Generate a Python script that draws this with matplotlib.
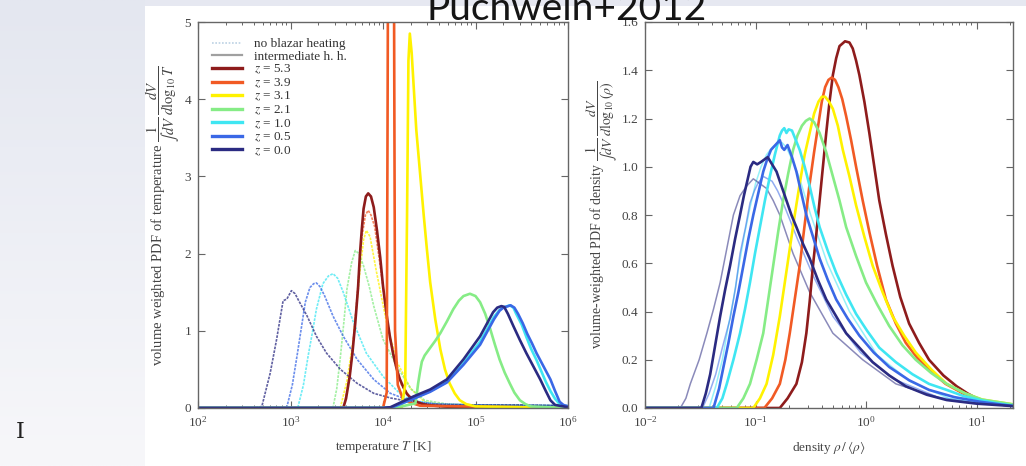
import numpy as np
import matplotlib.pyplot as plt
from matplotlib.patches import Rectangle
from matplotlib.lines import Line2D
from matplotlib.colors import LinearSegmentedColormap
from matplotlib.ticker import FormatStrFormatter

plt.rcParams['font.family'] = ['Liberation Serif', 'DejaVu Serif']
plt.rcParams['mathtext.fontset'] = 'stix'

redshifts = ["5.3", "3.9", "3.1", "2.1", "1.0", "0.5", "0.0"]
colors = ["#8e1c1c", "#f15a24", "#fff200", "#86ec86", "#3fe6f2", "#3a68e6", "#2b2b82"]

# ---- temperature PDF, strong blazar heating (log10 T, pdf) ----
temp_strong = {
    "5.3": ([2.0, 3.50, 3.57, 3.60, 3.64, 3.67, 3.70, 3.73, 3.75, 3.77, 3.79, 3.815, 3.84, 3.87, 3.90, 3.935, 3.97,
             4.0, 4.04, 4.075, 4.11, 4.145, 4.18, 4.22, 4.26, 4.31, 4.36, 4.43, 4.50, 4.65, 4.80, 6.0],
            [0, 0, 0.0, 0.12, 0.41, 0.72, 1.10, 1.55, 1.98, 2.30, 2.58, 2.74, 2.78, 2.74, 2.60, 2.30, 1.95,
             1.58, 1.20, 0.92, 0.70, 0.52, 0.38, 0.27, 0.18, 0.12, 0.08, 0.05, 0.035, 0.02, 0.01, 0]),
    "3.9": ([2.0, 4.00, 4.04, 4.05, 4.06, 4.11, 4.12, 4.13, 4.16, 4.22, 4.40, 6.0],
            [0, 0, 0.2, 4.0, 8.0, 8.0, 5.0, 1.0, 0.3, 0.1, 0.03, 0]),
    "3.1": ([2.0, 4.20, 4.24, 4.26, 4.275, 4.29, 4.31, 4.335, 4.36, 4.40, 4.44, 4.475, 4.51, 4.565, 4.62, 4.67,
             4.72, 4.775, 4.83, 4.9, 5.0, 6.0],
            [0, 0, 0.3, 2.5, 4.5, 4.85, 4.6, 4.1, 3.6, 3.05, 2.5, 2.05, 1.63, 1.15, 0.76, 0.50,
             0.32, 0.19, 0.10, 0.05, 0.02, 0]),
    "2.1": ([2.0, 4.0, 4.2, 4.35, 4.365, 4.38, 4.40, 4.42, 4.45, 4.51, 4.565, 4.62, 4.69, 4.76, 4.82, 4.87, 4.94,
             5.0, 5.05, 5.105, 5.16, 5.21, 5.26, 5.315, 5.37, 5.42, 5.48, 5.54, 5.6, 6.0],
            [0, 0, 0.02, 0.06, 0.18, 0.32, 0.47, 0.60, 0.68, 0.78, 0.87, 0.97, 1.12, 1.28, 1.39, 1.45, 1.48,
             1.45, 1.37, 1.22, 1.02, 0.82, 0.63, 0.46, 0.32, 0.20, 0.10, 0.05, 0.02, 0]),
    "1.0": ([2.0, 4.0, 4.1, 4.33, 4.51, 4.69, 4.87, 5.05, 5.2, 5.26, 5.3, 5.37, 5.41, 5.44, 5.5, 5.55, 5.6, 5.66,
             5.71, 5.76, 5.81, 5.86, 5.91, 5.95, 6.0],
            [0, 0, 0.01, 0.12, 0.22, 0.34, 0.58, 0.86, 1.18, 1.27, 1.30, 1.33, 1.30, 1.22, 1.08, 0.92, 0.77, 0.62,
             0.48, 0.34, 0.22, 0.12, 0.05, 0.03, 0.01]),
    "0.5": ([2.0, 4.0, 4.1, 4.33, 4.51, 4.69, 4.87, 5.05, 5.2, 5.26, 5.3, 5.38, 5.42, 5.46, 5.51, 5.56, 5.61, 5.66,
             5.735, 5.81, 5.86, 5.91, 5.95, 6.0],
            [0, 0, 0.01, 0.12, 0.21, 0.33, 0.56, 0.82, 1.15, 1.26, 1.30, 1.33, 1.30, 1.22, 1.10, 0.96, 0.84, 0.71,
             0.54, 0.37, 0.22, 0.08, 0.04, 0.02]),
    "0.0": ([2.0, 4.0, 4.08, 4.33, 4.51, 4.69, 4.87, 5.05, 5.19, 5.235, 5.28, 5.31, 5.35, 5.41, 5.48, 5.55, 5.625,
             5.70, 5.76, 5.81, 5.86, 6.0],
            [0, 0, 0.01, 0.15, 0.24, 0.37, 0.63, 0.93, 1.24, 1.30, 1.32, 1.31, 1.22, 1.06, 0.88, 0.71, 0.54,
             0.37, 0.22, 0.10, 0.04, 0.01]),
}

# ---- temperature PDF, no blazar heating ----
temp_none = {
    "3.9": ([2.0, 3.55, 3.58, 3.65, 3.71, 3.77, 3.81, 3.84, 3.87, 3.91, 3.98, 4.05, 4.12, 4.2, 4.3, 4.45, 4.7, 6.0],
            [0, 0, 0.02, 0.5, 1.3, 2.2, 2.5, 2.56, 2.5, 2.35, 1.75, 1.1, 0.62, 0.3, 0.13, 0.05, 0.02, 0.01]),
    "3.1": ([2.0, 3.5, 3.54, 3.61, 3.68, 3.75, 3.79, 3.82, 3.86, 3.93, 4.04, 4.15, 4.30, 4.45, 4.7, 6.0],
            [0, 0, 0.01, 0.35, 0.89, 1.76, 2.18, 2.30, 2.22, 1.76, 1.10, 0.60, 0.25, 0.08, 0.03, 0.02]),
    "2.1": ([2.0, 3.4, 3.46, 3.50, 3.54, 3.58, 3.61, 3.66, 3.70, 3.74, 3.79, 3.85, 3.90, 4.0, 4.15, 4.3, 4.45,
             4.7, 5.0, 6.0],
            [0, 0, 0.01, 0.25, 0.67, 1.15, 1.54, 1.88, 2.04, 2.00, 1.84, 1.58, 1.32, 0.89, 0.54, 0.25, 0.10,
             0.05, 0.04, 0.03]),
    "1.0": ([2.0, 3.0, 3.08, 3.14, 3.19, 3.24, 3.28, 3.35, 3.41, 3.46, 3.51, 3.57, 3.68, 3.82, 4.0, 4.18, 4.3, 4.6,
             5.0, 6.0],
            [0, 0, 0.01, 0.30, 0.67, 1.00, 1.28, 1.61, 1.71, 1.74, 1.68, 1.50, 1.11, 0.71, 0.41, 0.19, 0.10, 0.05,
             0.04, 0.03]),
    "0.5": ([2.0, 2.9, 2.96, 3.02, 3.07, 3.16, 3.21, 3.25, 3.28, 3.32, 3.37, 3.46, 3.57, 3.72, 3.90, 4.08, 4.3, 4.6,
             5.0, 6.0],
            [0, 0, 0.01, 0.30, 0.67, 1.37, 1.56, 1.61, 1.62, 1.57, 1.45, 1.19, 0.93, 0.63, 0.37, 0.19, 0.09, 0.05,
             0.04, 0.03]),
    "0.0": ([2.0, 2.6, 2.69, 2.78, 2.85, 2.92, 2.96, 3.01, 3.05, 3.08, 3.18, 3.28, 3.39, 3.54, 3.72, 3.90, 4.08,
             4.26, 4.5, 5.0, 5.5, 6.0],
            [0, 0, 0.02, 0.45, 0.89, 1.39, 1.41, 1.52, 1.48, 1.41, 1.19, 0.93, 0.71, 0.50, 0.32, 0.19, 0.13,
             0.09, 0.05, 0.04, 0.04, 0.03]),
}

# ---- density PDF, strong blazar heating (log10 rho/<rho>, pdf) ----
dens_strong = {
    "5.3": ([-2.0, -0.85, -0.78, -0.71, -0.63, -0.58, -0.54, -0.51, -0.48, -0.45, -0.42, -0.39, -0.36, -0.33,
             -0.30, -0.27, -0.24, -0.19, -0.15, -0.12, -0.09, -0.06, -0.015, 0.03, 0.075, 0.12, 0.18, 0.24,
             0.31, 0.39, 0.48, 0.57, 0.70, 0.82, 0.92, 1.03, 1.18, 1.33],
            [0, 0, 0.0, 0.04, 0.10, 0.19, 0.31, 0.44, 0.59, 0.72, 0.86, 1.00, 1.14, 1.27,
             1.38, 1.45, 1.50, 1.52, 1.515, 1.49, 1.44, 1.38, 1.27, 1.14, 1.00, 0.86, 0.72, 0.59,
             0.46, 0.35, 0.27, 0.20, 0.135, 0.09, 0.06, 0.033, 0.02, 0.012]),
    "3.9": ([-2.0, -1.0, -0.92, -0.85, -0.78, -0.73, -0.69, -0.645, -0.60, -0.555, -0.51, -0.47, -0.43, -0.40,
             -0.37, -0.34, -0.31, -0.28, -0.25, -0.215, -0.18, -0.135, -0.09, -0.03, 0.03, 0.10, 0.18, 0.27,
             0.36, 0.46, 0.57, 0.72, 0.88, 1.05, 1.33],
            [0, 0, 0.0, 0.04, 0.10, 0.20, 0.31, 0.45, 0.59, 0.76, 0.93, 1.06, 1.18, 1.27,
             1.33, 1.36, 1.37, 1.36, 1.33, 1.28, 1.21, 1.11, 1.00, 0.86, 0.73, 0.59, 0.45, 0.35,
             0.27, 0.21, 0.16, 0.10, 0.06, 0.03, 0.01]),
    "3.1": ([-2.0, -1.1, -1.02, -0.96, -0.90, -0.84, -0.78, -0.735, -0.69, -0.645, -0.60, -0.555, -0.51, -0.47,
             -0.43, -0.40, -0.37, -0.335, -0.30, -0.255, -0.21, -0.15, -0.09, -0.015, 0.06, 0.15, 0.24, 0.345,
             0.45, 0.59, 0.73, 0.90, 1.05, 1.33],
            [0, 0, 0.0, 0.04, 0.10, 0.22, 0.38, 0.52, 0.66, 0.80, 0.93, 1.05, 1.14, 1.22,
             1.27, 1.29, 1.29, 1.27, 1.24, 1.17, 1.07, 0.96, 0.84, 0.71, 0.59, 0.48, 0.38, 0.30,
             0.23, 0.16, 0.10, 0.06, 0.035, 0.015]),
    "2.1": ([-2.0, -1.25, -1.17, -1.11, -1.05, -0.99, -0.93, -0.885, -0.84, -0.795, -0.75, -0.705, -0.66, -0.62,
             -0.58, -0.545, -0.51, -0.47, -0.42, -0.36, -0.30, -0.24, -0.18, -0.09, 0.0, 0.10, 0.21, 0.33,
             0.45, 0.59, 0.73, 0.90, 1.05, 1.33],
            [0, 0, 0.0, 0.04, 0.10, 0.20, 0.31, 0.45, 0.59, 0.73, 0.86, 0.97, 1.07, 1.13,
             1.17, 1.19, 1.20, 1.185, 1.14, 1.06, 0.96, 0.86, 0.75, 0.63, 0.52, 0.43, 0.34, 0.26,
             0.20, 0.145, 0.10, 0.06, 0.035, 0.015]),
    "1.0": ([-2.0, -1.42, -1.35, -1.30, -1.26, -1.20, -1.14, -1.095, -1.05, -1.005, -0.96, -0.915, -0.87, -0.825,
             -0.78, -0.76, -0.74, -0.72, -0.70, -0.67, -0.635, -0.60, -0.555, -0.51, -0.465, -0.42, -0.345,
             -0.27, -0.18, -0.09, 0.01, 0.12, 0.27, 0.42, 0.57, 0.73, 0.88, 1.03, 1.18, 1.33],
            [0, 0, 0.0, 0.04, 0.10, 0.20, 0.31, 0.41, 0.52, 0.64, 0.75, 0.86, 0.96, 1.05,
             1.13, 1.15, 1.16, 1.14, 1.155, 1.15, 1.11, 1.07, 1.00, 0.92, 0.83, 0.75, 0.65,
             0.56, 0.47, 0.39, 0.32, 0.25, 0.19, 0.14, 0.10, 0.075, 0.05, 0.033, 0.02, 0.01]),
    "0.5": ([-2.0, -1.45, -1.38, -1.33, -1.29, -1.245, -1.20, -1.155, -1.11, -1.065, -1.02, -0.975, -0.93, -0.895,
             -0.86, -0.82, -0.78, -0.76, -0.74, -0.71, -0.67, -0.63, -0.585, -0.54, -0.48, -0.42, -0.345,
             -0.27, -0.165, -0.06, 0.07, 0.21, 0.39, 0.57, 0.80, 1.03, 1.33],
            [0, 0, 0.0, 0.08, 0.17, 0.27, 0.38, 0.48, 0.59, 0.70, 0.80, 0.89, 0.98, 1.03,
             1.07, 1.09, 1.11, 1.08, 1.07, 1.09, 1.04, 0.98, 0.89, 0.80, 0.71, 0.62, 0.53,
             0.45, 0.37, 0.30, 0.23, 0.17, 0.115, 0.075, 0.045, 0.026, 0.008]),
    "0.0": ([-2.0, -1.56, -1.49, -1.45, -1.41, -1.365, -1.32, -1.275, -1.23, -1.185, -1.14, -1.105, -1.07, -1.045,
             -1.02, -0.985, -0.95, -0.92, -0.89, -0.85, -0.81, -0.765, -0.72, -0.675, -0.63, -0.57, -0.51,
             -0.435, -0.36, -0.27, -0.18, -0.06, 0.06, 0.21, 0.36, 0.55, 0.73, 1.0, 1.33],
            [0, 0, 0.0, 0.06, 0.14, 0.26, 0.38, 0.49, 0.59, 0.70, 0.80, 0.88, 0.95, 1.00,
             1.02, 1.01, 1.02, 1.03, 1.04, 1.01, 0.98, 0.92, 0.86, 0.80, 0.75, 0.68, 0.62,
             0.53, 0.45, 0.38, 0.31, 0.25, 0.19, 0.135, 0.09, 0.055, 0.033, 0.018, 0.008]),
}

# ---- density PDF, weaker heating (thin lines) ----
dens_weak = {
    "1.0": ([-2.0, -1.48, -1.42, -1.36, -1.30, -1.25, -1.20, -1.15, -1.10, -1.05, -1.00, -0.95, -0.90, -0.85,
             -0.80, -0.76, -0.72, -0.66, -0.60, -0.50, -0.35, -0.15, 0.10, 0.40, 0.75, 1.05, 1.33],
            [0, 0, 0.0, 0.09, 0.20, 0.33, 0.45, 0.59, 0.72, 0.83, 0.93, 1.00, 1.05, 1.08,
             1.10, 1.10, 1.08, 1.02, 0.95, 0.80, 0.60, 0.40, 0.22, 0.11, 0.04, 0.02, 0.008]),
    "0.5": ([-2.0, -1.55, -1.48, -1.42, -1.36, -1.30, -1.23, -1.18, -1.14, -1.09, -1.05, -1.01, -0.98, -0.93,
             -0.89, -0.85, -0.80, -0.75, -0.68, -0.62, -0.48, -0.30, -0.05, 0.25, 0.65, 1.0, 1.33],
            [0, 0, 0.0, 0.06, 0.14, 0.25, 0.37, 0.50, 0.64, 0.75, 0.85, 0.90, 0.93, 0.96,
             0.95, 0.94, 0.90, 0.85, 0.77, 0.70, 0.55, 0.38, 0.23, 0.12, 0.045, 0.02, 0.008]),
    "0.0": ([-2.0, -1.75, -1.68, -1.63, -1.59, -1.51, -1.44, -1.38, -1.32, -1.26, -1.20, -1.14, -1.08, -1.02,
             -0.96, -0.90, -0.84, -0.78, -0.66, -0.51, -0.30, -0.03, 0.27, 0.73, 1.05, 1.33],
            [0, 0, 0.0, 0.04, 0.10, 0.20, 0.31, 0.41, 0.52, 0.66, 0.80, 0.88, 0.92, 0.95,
             0.93, 0.91, 0.86, 0.80, 0.64, 0.48, 0.31, 0.20, 0.10, 0.033, 0.018, 0.008]),
}

W, H = 1026, 466
fig = plt.figure(figsize=(W / 100, H / 100), dpi=100, facecolor="#e6e8f1")

# slide backdrop: pale strip on the left fading downwards, white page on the right
bg = fig.add_axes([0, 0, 145 / W, 1], zorder=-10)
bg.imshow(np.linspace(0, 1, 200)[:, None], aspect="auto", extent=(0, 1, 0, 1),
          cmap=LinearSegmentedColormap.from_list("bg", ["#e4e7f0", "#f7f7fa"]))
bg.axis("off")
fig.patches.append(Rectangle((145 / W, 0), 881 / W, 460 / H, transform=fig.transFigure,
                             facecolor="white", edgecolor="none", zorder=-5))

ax1 = fig.add_axes([198 / W, 1 - 408 / H, 370 / W, 386 / H])
ax2 = fig.add_axes([645 / W, 1 - 408 / H, 368 / W, 386 / H])

color_of = dict(zip(redshifts, colors))

for z, (lx, y) in temp_none.items():
    ax1.plot(10 ** np.array(lx), y, color=color_of[z], lw=1.2, alpha=0.75, ls=(0, (1.6, 0.7)))
for z in redshifts:
    lx, y = temp_strong[z]
    ax1.plot(10 ** np.array(lx), y, color=color_of[z], lw=1.9, solid_joinstyle="round")

for z, (lx, y) in dens_weak.items():
    ax2.plot(10 ** np.array(lx), y, color=color_of[z], lw=1.1, alpha=0.55)
for z in redshifts:
    lx, y = dens_strong[z]
    ax2.plot(10 ** np.array(lx), y, color=color_of[z], lw=1.9, solid_joinstyle="round")

for ax in (ax1, ax2):
    ax.set_xscale("log")
    ax.tick_params(which="both", direction="in", top=True, right=True,
                   color="#666666", labelcolor="#444444", labelsize=9.5)
    ax.tick_params(which="major", length=5, width=0.8, pad=5)
    ax.tick_params(which="minor", length=2.5, width=0.7)
    for s in ax.spines.values():
        s.set_color("#666666")
        s.set_linewidth(1.0)

ax1.set_xlim(1e2, 1e6)
ax1.set_ylim(0, 5)
ax1.set_yticks([0, 1, 2, 3, 4, 5])
ax1.set_xlabel(r"temperature $T$ [K]", fontsize=9.5, color="#444444", labelpad=7)
ax1.set_ylabel(r"volume weighted PDF of temperature $\dfrac{1}{\int dV}\,\dfrac{dV}{d\log_{10}T}$",
               fontsize=10.5, color="#444444", labelpad=2)

ax2.set_xlim(1e-2, 10 ** 1.33)
ax2.set_ylim(0, 1.6)
ax2.set_yticks(np.arange(0, 1.61, 0.2))
ax2.yaxis.set_major_formatter(FormatStrFormatter("%.1f"))
ax2.set_xlabel(r"density $\rho\,/\,\langle\rho\rangle$", fontsize=9.5, color="#444444", labelpad=7)
ax2.set_ylabel(r"volume-weighted PDF of density $\dfrac{1}{\int dV}\,\dfrac{dV}{d\log_{10}(\rho)}$",
               fontsize=10, color="#444444", labelpad=2)

handles = [Line2D([], [], color="#bcd2e4", lw=1.2, ls=(0, (1, 1))),
           Line2D([], [], color="#a0a0a0", lw=1.6)]
labels = ["no blazar heating", "intermediate h. h."]
for z, c in zip(redshifts, colors):
    handles.append(Line2D([], [], color=c, lw=2.4))
    labels.append(r"$z$ = " + z)
ax1.legend(handles, labels, loc="upper left", bbox_to_anchor=(0.0227, 0.972), borderaxespad=0,
           frameon=False, fontsize=9.5, handlelength=2.3, handletextpad=0.9, labelspacing=0.02,
           labelcolor="#333333")

fig.text(427 / W, 1 - 20 / H, "Puchwein+2012", fontsize=28, family="Lato",
         color="#151515", va="baseline", ha="left", zorder=10)
fig.text(20 / W, 1 - 432 / H, "I", fontsize=16, family="DejaVu Serif",
         color="#222222", ha="center", va="center")

fig.savefig("out.png", dpi=100, facecolor=fig.get_facecolor())
